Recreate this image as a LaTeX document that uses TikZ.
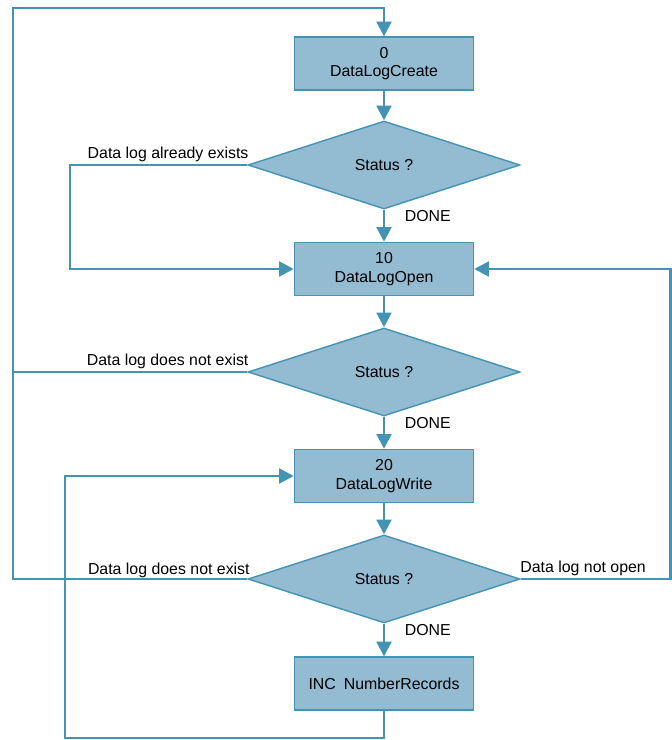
\documentclass[tikz,border=0pt]{standalone}
\usepackage{fontspec}
\setmainfont{Liberation Sans}
\usetikzlibrary{shapes.geometric,arrows.meta}
\definecolor{stepblue}{RGB}{147,187,210}
\definecolor{flowline}{RGB}{67,147,179}
\tikzstyle{myBox}=[draw=flowline, line width=1pt, fill=stepblue, text width=4.2cm,
	text centered, minimum width=4.475cm, minimum height=1.325cm, inner sep=0pt,
	font=\fontsize{11.3}{13.5}\selectfont]
\tikzstyle{decision}=[diamond, draw=flowline, line width=1pt, fill=stepblue,
	minimum width=6.8cm, minimum height=2.2cm, inner sep=0pt, aspect=3,
	font=\fontsize{11.3}{13.5}\selectfont]
\tikzstyle{texto}=[text=black, font=\fontsize{11.3}{13.5}\selectfont, inner sep=1pt]
\tikzstyle{line}=[draw, line width=2.1pt, color=flowline,
	-{Triangle[width=10.5pt,length=10.5pt]}]
\tikzstyle{return}=[draw, line width=2.1pt, color=flowline]
\newcommand{\myBox}[2]{node (b#1) [myBox]
	{{#2}}}
\newcommand{\myStatus}[1]{node (d#1) [decision]
	{Status ?}}

\begin{document}
\begin{tikzpicture}
	\useasboundingbox (0,0) rectangle (16.8,-18.5);

	\path (9.6,-1.59) \myBox{0}{0\\ DataLogCreate};
	\path (b0)+(0.0,-2.535) \myStatus{1};
	\path (d1)+(0.0,-2.6) \myBox{1}{10\\ DataLogOpen};
	\path (b1)+(0.0,-2.575) \myStatus{2};
	\path (d2)+(0.0,-2.6) \myBox{2}{20\\ DataLogWrite};
	\path (b2)+(0.0,-2.575) \myStatus{3};
	\path (d3)+(0.0,-2.615) \myBox{3}{INC\hspace{0.5em}NumberRecords};

	% Free corners of the return lines
	\coordinate (topl) at (0.325,-0.2);
	\coordinate (lft1) at (1.75,0);
	\coordinate (botl) at (1.625,-18.45);
	\coordinate (rgt) at (16.77,0);

	% Draw arrows between elements
	\path [line] (b0.south) -- (d1.north);
	\path [line] (d1.south) -- node [texto, pos=0.2, right=0.45cm] {DONE} (b1.north);
	\path [line] (b1.south) -- (d2.north);
	\path [line] (d2.south) -- node [texto, pos=0.2, right=0.45cm] {DONE} (b2.north);
	\path [line] (b2.south) -- (d3.north);
	\path [line] (d3.south) -- node [texto, pos=0.2, right=0.45cm] {DONE} (b3.north);

	% Return lines
	\path [line] (d1.west) -- node [texto, pos=0, above left, xshift=0.1cm]
		{Data log already exists} (d1.west -| lft1) |- (b1.west);
	\path [return] (d2.west) -- node [texto, pos=0, above left, xshift=0.1cm]
		{Data log does not exist} (d2.west -| topl);
	\path [line] (d3.west) -| (topl) -| (b0.north);
	\path (d3.west) node [texto, above left, xshift=0.1cm] {Data log does not exist};
	\path [line] (d3.east) -- node [texto, pos=0, above right, xshift=-0.08cm]
		{Data log not open} (d3.east -| rgt) |- (b1.east);
	\path [line] (b3.south) |- (botl) |- (b2.west);

\end{tikzpicture}
\end{document}
